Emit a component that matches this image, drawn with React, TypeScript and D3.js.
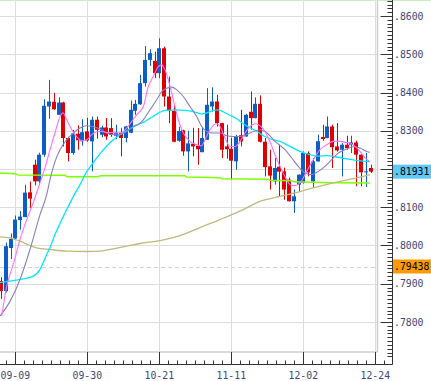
import React from 'react';
import * as d3 from 'd3';

const dateLabels = ['09-09', '09-30', '10-21', '11-11', '12-02', '12-24'];
const dateIdx = [3, 18, 33, 48, 63, 78];

const open = [.79069,.78808,.79935,.80183,.80665,.80743,.81390,.82113,.81677,.82374,.83634,.83757,.83417,.83738,.82810,.82418,.82922,.82726,.82982,.82721,.83287,.82896,.83086,.83070,.82870,.82948,.82810,.82948,.83522,.83691,.84244,.84852,.84826,.84505,.85157,.83895,.83522,.82739,.83013,.82460,.82661,.82609,.82439,.82765,.83634,.83764,.83201,.82591,.82530,.82199,.82883,.82851,.83496,.83331,.83704,.82713,.82069,.81677,.82061,.81938,.81722,.81156,.81591,.81636,.82418,.81677,.82199,.82836,.82810,.83112,.82590,.82504,.82635,.82635,.82695,.82374,.81912,.82027];
const high = [.79173,.80078,.80313,.80783,.80900,.81591,.81670,.82243,.82426,.83822,.84330,.83991,.83874,.83757,.82843,.83026,.83143,.83300,.83339,.83373,.83373,.83130,.83331,.83331,.83157,.83065,.83125,.83790,.83809,.84461,.85217,.85131,.85069,.85418,.85199,.84417,.83678,.83104,.83026,.83000,.83078,.83070,.83104,.84114,.84135,.83939,.83209,.83157,.82817,.82896,.83548,.83443,.84025,.83874,.83926,.82810,.82504,.82288,.82635,.82035,.81774,.81461,.81860,.82460,.82460,.82288,.82896,.83157,.83373,.83157,.83201,.82679,.82870,.82870,.82739,.82426,.82418,.82113];
const low = [.78604,.78774,.79648,.80157,.80417,.80743,.80984,.81573,.81578,.82322,.83313,.83548,.83417,.82590,.82199,.82374,.82504,.82609,.82713,.81938,.82791,.82830,.82765,.82843,.82778,.82330,.82695,.82940,.83417,.83678,.84156,.84696,.84375,.84375,.83634,.83201,.82700,.82713,.82348,.81938,.82330,.82113,.82439,.82765,.83503,.83112,.82288,.82270,.81722,.81983,.82590,.82843,.83026,.83326,.82695,.81808,.81461,.81591,.81286,.81200,.81148,.80853,.81409,.81617,.81808,.81505,.82191,.82739,.82804,.82027,.82452,.81808,.82504,.82418,.81547,.81547,.81531,.81897];
const close = [.78808,.79982,.80175,.80678,.80757,.81383,.81226,.81677,.82374,.83652,.83764,.83561,.83738,.82810,.82418,.82930,.82752,.82961,.82747,.83287,.83026,.83086,.82851,.82896,.82956,.82810,.83112,.83548,.83704,.84244,.84852,.85027,.84505,.85157,.83895,.83522,.82713,.82992,.82460,.82669,.82591,.82517,.82810,.83678,.83764,.83201,.82504,.82517,.82217,.82857,.82721,.83417,.83331,.83704,.82713,.82048,.81826,.82027,.81930,.81461,.81156,.81286,.81852,.82418,.81912,.82199,.82726,.82784,.83112,.82570,.82486,.82635,.82549,.82695,.82374,.81912,.81938,.81931];

const maPink: [number, number][] = [[0.17,.78156],[1.21,.78938],[2.58,.79504],[3.98,.80157],[5.38,.80678],[6.75,.81122],[8.15,.81643],[9.19,.82035],[10.23,.82504],[11.27,.82948],[12.31,.83365],[12.94,.83470],[13.71,.83287],[14.75,.83026],[15.79,.82843],[16.83,.82739],[17.88,.82765],[18.92,.82896],[19.96,.82974],[21.0,.82982],[22.04,.82956],[23.08,.82956],[24.13,.82940],[25.17,.82956],[26.21,.83070],[27.25,.83243],[28.29,.83417],[29.67,.83634],[30.71,.84156],[31.75,.84417],[32.79,.84677],[33.5,.84722],[34.19,.84591],[34.88,.84330],[35.92,.83809],[36.96,.83287],[38.0,.82940],[39.4,.82721],[40.79,.82635],[41.83,.82609],[42.52,.82765],[43.56,.83026],[44.81,.83183],[45.65,.83112],[46.69,.82810],[47.73,.82590],[48.77,.82590],[49.81,.82721],[50.85,.82940],[51.9,.83112],[52.94,.83183],[53.98,.83130],[55.02,.82974],[56.06,.82713],[57.1,.82374],[58.15,.82069],[59.54,.81722],[60.23,.81591],[61.27,.81565],[62.31,.81636],[63.71,.81938],[65.08,.82243],[66.48,.82504],[67.88,.82635],[69.25,.82721],[70.65,.82721],[71.69,.82700],[72.73,.82679],[73.77,.82590],[74.81,.82460],[75.85,.82288],[76.9,.82191]];
const maPurple: [number, number][] = [[-0.19,.78156],[1.9,.78539],[3.98,.79113],[6.06,.79896],[8.15,.80809],[9.54,.81330],[10.23,.81722],[11.27,.82191],[12.31,.82504],[13.71,.82765],[15.08,.82940],[16.48,.83070],[17.88,.83130],[19.25,.83112],[20.65,.83044],[22.04,.82940],[23.42,.82896],[24.81,.82896],[26.21,.82982],[27.58,.83112],[28.98,.83201],[29.67,.83287],[31.06,.83548],[32.46,.83809],[33.5,.84025],[34.54,.84114],[35.58,.84140],[36.63,.84070],[38.0,.83895],[39.4,.83634],[40.79,.83373],[41.83,.83112],[42.88,.82982],[44.25,.82940],[45.65,.82940],[47.04,.82870],[48.42,.82851],[49.81,.82851],[51.21,.82896],[52.58,.82982],[53.98,.83026],[55.38,.82948],[57.1,.82721],[59.19,.82504],[60.58,.82288],[61.96,.82069],[63.35,.81897],[64.75,.81852],[66.13,.81938],[67.52,.82069],[68.92,.82243],[70.29,.82418],[71.69,.82504],[73.42,.82583],[74.81,.82549],[76.21,.82460],[76.9,.82439]];
const maCyan: [number, number][] = [[-0.19,.79027],[3.98,.79113],[6.69,.79191],[8.15,.79374],[9.54,.79765],[10.23,.79948],[11.27,.80287],[12.31,.80574],[13.71,.80939],[15.08,.81278],[16.48,.81591],[17.88,.81930],[19.25,.82165],[20.65,.82400],[22.73,.82687],[24.81,.82896],[26.9,.83052],[28.98,.83183],[30.02,.83243],[31.42,.83352],[32.79,.83462],[34.19,.83535],[36.27,.83548],[38.35,.83535],[40.08,.83503],[41.83,.83436],[42.88,.83470],[44.25,.83530],[45.29,.83548],[46.33,.83496],[47.73,.83404],[49.13,.83313],[50.5,.83183],[51.9,.83078],[53.29,.82987],[54.67,.82870],[56.06,.82791],[58.15,.82721],[60.23,.82590],[62.31,.82460],[64.4,.82374],[65.79,.82335],[67.88,.82348],[69.96,.82314],[72.04,.82262],[73.96,.82225],[76.21,.82199],[76.9,.82191]];
const maKhaki: [number, number][] = [[-0.19,.80227],[1.9,.80201],[3.98,.80112],[6.06,.80000],[7.46,.79940],[10.23,.79896],[13.71,.79851],[17.88,.79843],[20.65,.79851],[23.42,.79914],[26.21,.79982],[28.98,.80052],[33.15,.80130],[37.31,.80261],[41.48,.80470],[45.65,.80678],[50.5,.80939],[53.98,.81156],[56.75,.81244],[61.75,.81390],[65.08,.81505],[69.25,.81636],[74.13,.81766],[76.9,.81852]];
const maGreen: [number, number][] = [[-0.19,.81897],[2.94,.81878],[3.56,.81844],[13.35,.81839],[13.71,.81795],[20.29,.81795],[20.65,.81826],[38.35,.81826],[38.71,.81792],[45.65,.81774],[46.0,.81743],[55.65,.81735],[56.06,.81709],[60.65,.81696],[61.06,.81664],[68.56,.81643],[76.9,.81636]];

// grid levels; 0.82 is hidden behind the last-price box in the reference, so it gets no label
const priceTicks = [0.86, 0.85, 0.84, 0.83, 0.82, 0.81, 0.80, 0.79, 0.78];
const priceLabelTicks = [0.86, 0.85, 0.84, 0.83, 0.81, 0.80, 0.79, 0.78];
const lastPrice = 0.81931;
const refPrice = 0.79438;

const W = 431, H = 381;
const plotRight = 377.5, plotBottom = 352, axisX = 392.5, axisY = 364.5;
const UP = '#0a5ec6', DOWN = '#dd0000';
const FONT = '"DejaVu Sans Mono", monospace';

export default function App() {
  const x = d3.scaleLinear().domain([0, 77]).range([0.9, 370.5]);
  const y = d3.scaleLinear().domain([0.78, 0.86]).range([322, 16]);
  const fmt4 = (v: number) => d3.format('.4f')(v).replace(/^0/, '');
  const fmt5 = (v: number) => d3.format('.5f')(v).replace(/^0/, '');

  const smooth = d3.line<[number, number]>().x(d => x(d[0])).y(d => y(d[1])).curve(d3.curveMonotoneX);
  const straight = d3.line<[number, number]>().x(d => x(d[0])).y(d => y(d[1]));

  const minorPrice = d3.range(771, 865).map(v => v / 1000);
  const minorDate = d3.range(-1, 44).map(j => 3 + (j * 15) / 8).filter(i => x(i) <= axisX - 2);

  return (
    <svg width={W} height={H} style={{ position: 'absolute', left: 0, top: 0, background: '#fff' }}>
      <rect x={0} y={0} width={W} height={H} fill="#fff" />
      {/* grid */}
      {priceTicks.map(v => (
        <line key={'hg' + v} x1={0} x2={plotRight} y1={Math.round(y(v)) + 0.5} y2={Math.round(y(v)) + 0.5} stroke="#dddddd" strokeWidth={1} />
      ))}
      {dateIdx.map(i => (
        <line key={'vg' + i} x1={Math.round(x(i)) + 0.5} x2={Math.round(x(i)) + 0.5} y1={0} y2={plotBottom} stroke="#dddddd" strokeWidth={1} />
      ))}
      <line x1={0} x2={plotRight} y1={Math.round(y(refPrice)) + 0.5} y2={Math.round(y(refPrice)) + 0.5} stroke="#d4d4d4" strokeDasharray="4,3" />
      {/* plot border */}
      <line x1={plotRight} x2={plotRight} y1={0} y2={plotBottom} stroke="#cfcfcf" strokeWidth={1.5} />
      <line x1={0} x2={plotRight} y1={plotBottom} y2={plotBottom} stroke="#cfcfcf" strokeWidth={1.5} />
      <line x1={0} x2={W} y1={0.5} y2={0.5} stroke="#c8efc8" strokeWidth={1} />

      {/* candles */}
      {open.map((o, i) => {
        const c = close[i];
        const col = c >= o ? UP : DOWN;
        const bx = Math.round(x(i) - 2);
        const top = y(Math.max(o, c));
        const bot = y(Math.min(o, c));
        return (
          <g key={'c' + i}>
            <rect x={bx + 2} y={y(high[i])} width={1} height={Math.max(1, y(low[i]) - y(high[i]))} fill={col} />
            <rect x={bx} y={top} width={4} height={Math.max(1, bot - top)} fill={col} />
          </g>
        );
      })}

      {/* moving averages */}
      <path d={straight(maGreen) || ''} fill="none" stroke="#80ff00" strokeWidth={1.5} />
      <path d={smooth(maKhaki) || ''} fill="none" stroke="#bfb97e" strokeWidth={1.3} />
      <path d={smooth(maCyan) || ''} fill="none" stroke="#00e8ff" strokeWidth={1.3} />
      <path d={smooth(maPurple) || ''} fill="none" stroke="#8480c4" strokeWidth={1.1} />
      <path d={smooth(maPink) || ''} fill="none" stroke="#ff70ff" strokeWidth={1.1} />

      {/* right axis */}
      <line x1={axisX} x2={axisX} y1={0} y2={axisY} stroke="#333" strokeWidth={1} />
      {minorPrice.map(v => {
        const major = Math.round(v * 1000) % 10 === 0;
        const yy = Math.round(y(v)) + 0.5;
        return <line key={'pt' + v} x1={axisX - (major ? 12 : 5)} x2={axisX} y1={yy} y2={yy} stroke="#333" strokeWidth={1} />;
      })}
      {priceLabelTicks.map(v => (
        <text key={'pl' + v} x={394} y={y(v) + 3.5} fontFamily={FONT} fontSize={9.8} fill="#404878">{fmt4(v)}</text>
      ))}

      {/* bottom axis */}
      <line x1={0} x2={axisX} y1={axisY} y2={axisY} stroke="#333" strokeWidth={1} />
      {minorDate.map(i => (
        <line key={'dt' + i} x1={Math.round(x(i)) + 0.5} x2={Math.round(x(i)) + 0.5} y1={axisY - 4} y2={axisY} stroke="#333" strokeWidth={1} />
      ))}
      {dateIdx.map(i => (
        <line key={'dM' + i} x1={Math.round(x(i)) + 0.5} x2={Math.round(x(i)) + 0.5} y1={plotBottom} y2={axisY} stroke="#333" strokeWidth={1} />
      ))}
      {dateIdx.map((i, k) => (
        <text key={'dl' + i} x={x(i)} y={379} textAnchor="middle" fontFamily={FONT} fontSize={9.8} fill="#404878">{dateLabels[k]}</text>
      ))}

      {/* price boxes */}
      <rect x={393} y={y(lastPrice) - 7} width={38} height={14} fill="#5ec8f8" />
      <text x={394} y={y(lastPrice) + 3.5} fontFamily={FONT} fontSize={9.8} fill="#000">{fmt5(lastPrice)}</text>
      <rect x={393} y={y(refPrice) - 7.5} width={38} height={14} fill="#ff9a00" />
      <text x={394} y={y(refPrice) + 3} fontFamily={FONT} fontSize={9.8} fill="#000">{fmt5(refPrice)}</text>
    </svg>
  );
}
